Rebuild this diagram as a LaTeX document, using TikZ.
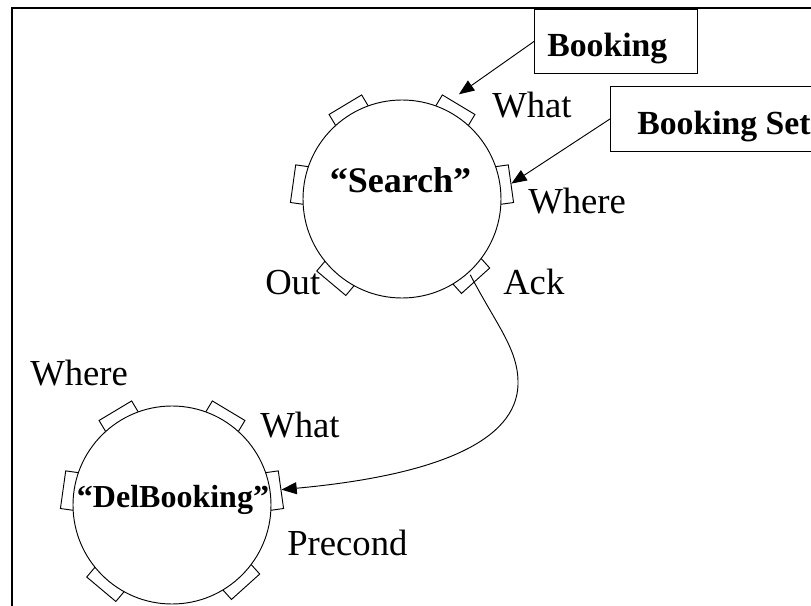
\documentclass[tikz,border=0pt]{standalone}
\usepackage{fontspec}
\setmainfont{Liberation Serif}
\usetikzlibrary{arrows.meta,calc}
\begin{document}
\begin{tikzpicture}[x=0.75pt,y=0.75pt,
  thinline/.style={line width=0.7pt},
  port/.style={draw, fill=white, thinline, minimum width=28.5pt, minimum height=12pt, inner sep=0pt},
  proc/.style={circle, draw, fill=white, thinline, minimum size=148.5pt, inner sep=0pt},
  lbl/.style={font=\fontsize{27.5}{30}\selectfont, anchor=base west, inner sep=0pt},
  proctitle/.style={font=\bfseries\fontsize{27}{30}\selectfont, anchor=base, inner sep=0pt},
  databox/.style={draw, thinline, fill=white, anchor=north west, inner sep=0pt},
  datatext/.style={font=\bfseries\fontsize{25.3}{28}\selectfont, anchor=base west, inner sep=0pt},
  flow/.style={thinline, -{Triangle[length=11.5pt,width=9pt]}},
  frameline/.style={line width=2.2pt},
]
\useasboundingbox (0,0) rectangle (811,-606);

% outer frame (top and left sides)
\draw[frameline] (12,-620) -- (12,-8) -- (830,-8);

% a process: a circle carrying six ports on its rim
\newcommand\procring[2]{%
  \foreach \a/\n in {59/ne,121/nw,172/w,8/e,230/sw,-48/se}{
    \node[port, rotate=\a-90] (#1-\n) at ($(#2)+(\a:102)$) {};
  }
  \node[proc] (#1) at (#2) {};
}

\coordinate (sc) at (402,-199);
\coordinate (dc) at (172,-505);
\procring{search}{sc}
\procring{delb}{dc}

\node[proctitle] (searchname) at (400.5,-193) {“Search”};
\node[proctitle, font=\bfseries\fontsize{24}{28}\selectfont] (delbname) at (173,-507) {“DelBooking”};

% port labels
\node[lbl] (s-what)  at (492,-118) {What};
\node[lbl] (s-where) at (528,-214) {Where};
\node[lbl] (s-out)   at (265,-295) {Out};
\node[lbl] (s-ack)   at (503,-295) {Ack};
\node[lbl] (d-where) at (30,-385)  {Where};
\node[lbl] (d-what)  at (260,-437) {What};
\node[lbl] (d-pre)   at (287,-555) {Precond};

% data boxes
\node[databox, minimum width=122.25pt, minimum height=48pt] (bk) at (534,-9) {};
\node[datatext] (bktext) at (547,-57) {Booking};
\node[databox, minimum width=180pt, minimum height=48.75pt] (bkset) at (610,-86) {};
\node[datatext] (bksettext) at (637,-135) {Booking Set};

% connectors
\draw[flow] (bk.west) -- ($(search-ne.north)+(0,10)$);
\draw[flow] (bkset.west) -- (search-e.north);
\draw[flow] (search-se.center) .. controls (497,-326) and (519,-350) .. (518,-385)
  .. controls (516,-440) and (440,-475) .. (delb-e.north);
\end{tikzpicture}
\end{document}
